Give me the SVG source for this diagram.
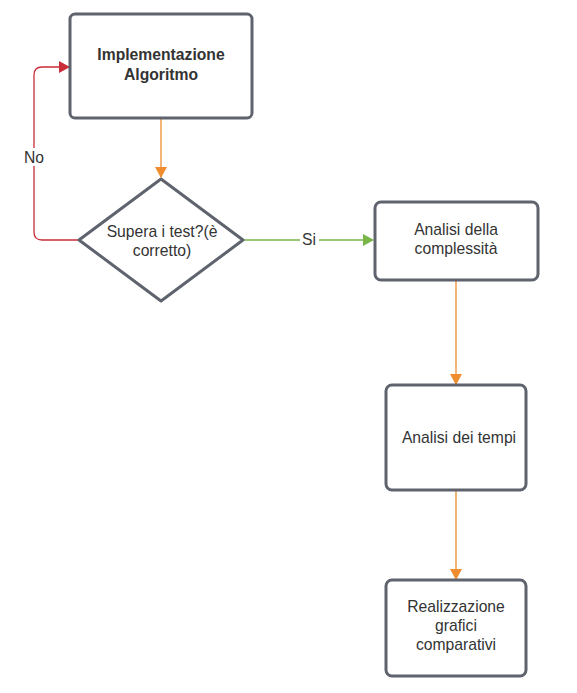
<svg xmlns="http://www.w3.org/2000/svg" width="577" height="693" viewBox="0 0 577 693">
<defs>
<style>
.node{fill:#fff;stroke:#5e636e;stroke-width:3;stroke-linejoin:round}
.t{font-family:"Liberation Sans",Arial,sans-serif;font-size:15.7px;fill:#333;text-anchor:middle}
.b{font-weight:bold}
.or{fill:none;stroke:#ef8d2f;stroke-width:1.3}
</style>
<marker id="ao" markerWidth="12" markerHeight="12" refX="10" refY="6" orient="auto" markerUnits="userSpaceOnUse"><path d="M0,0 L11,6 L0,12 Z" fill="#ef8d2f"/></marker>
<marker id="ar" markerWidth="12" markerHeight="12" refX="10" refY="6" orient="auto" markerUnits="userSpaceOnUse"><path d="M0,0 L11,6 L0,12 Z" fill="#c92d39"/></marker>
<marker id="ag" markerWidth="12" markerHeight="12" refX="10" refY="6" orient="auto" markerUnits="userSpaceOnUse"><path d="M0,0 L11,6 L0,12 Z" fill="#7ab648"/></marker>
</defs>
<rect width="577" height="693" fill="#fff"/>
<g id="connectors">
<path class="or" d="M161,118 V177" marker-end="url(#ao)"/>
<path d="M79,240 H42 Q34,240 34,232 V75 Q34,67 42,67 H69" fill="none" stroke="#c92d39" stroke-width="1.3" marker-end="url(#ar)"/>
<rect x="21" y="148" width="26" height="18" fill="#fff"/>
<text class="t" x="34" y="163">No</text>
<path d="M244,240 H373" fill="none" stroke="#7ab648" stroke-width="1.3" marker-end="url(#ag)"/>
<rect x="300" y="231" width="19" height="18" fill="#fff"/>
<text class="t" x="309" y="245">Si</text>
<path class="or" d="M456,280 V384" marker-end="url(#ao)"/>
<path class="or" d="M456,490 V579" marker-end="url(#ao)"/>
</g>
<g id="n1">
<rect class="node" x="70" y="14" width="182" height="104" rx="5"/>
<text class="t b" x="161" y="60">Implementazione</text>
<text class="t b" x="161" y="80">Algoritmo</text>
</g>
<g id="n2">
<path class="node" d="M161,179 L243,240 L161,301 L79,240 Z"/>
<text class="t" x="162" y="237">Supera i test?(è</text>
<text class="t" x="162" y="256">corretto)</text>
</g>
<g id="n3">
<rect class="node" x="375" y="202" width="163" height="78" rx="6"/>
<text class="t" x="456" y="235">Analisi della</text>
<text class="t" x="456" y="254">complessità</text>
</g>
<g id="n4">
<rect class="node" x="386" y="385" width="140" height="105" rx="6"/>
<text class="t" x="459" y="443">Analisi dei tempi</text>
</g>
<g id="n5">
<rect class="node" x="386" y="580" width="140" height="96" rx="6"/>
<text class="t" x="456" y="612">Realizzazione</text>
<text class="t" x="456" y="631">grafici</text>
<text class="t" x="456" y="650">comparativi</text>
</g>
</svg>
